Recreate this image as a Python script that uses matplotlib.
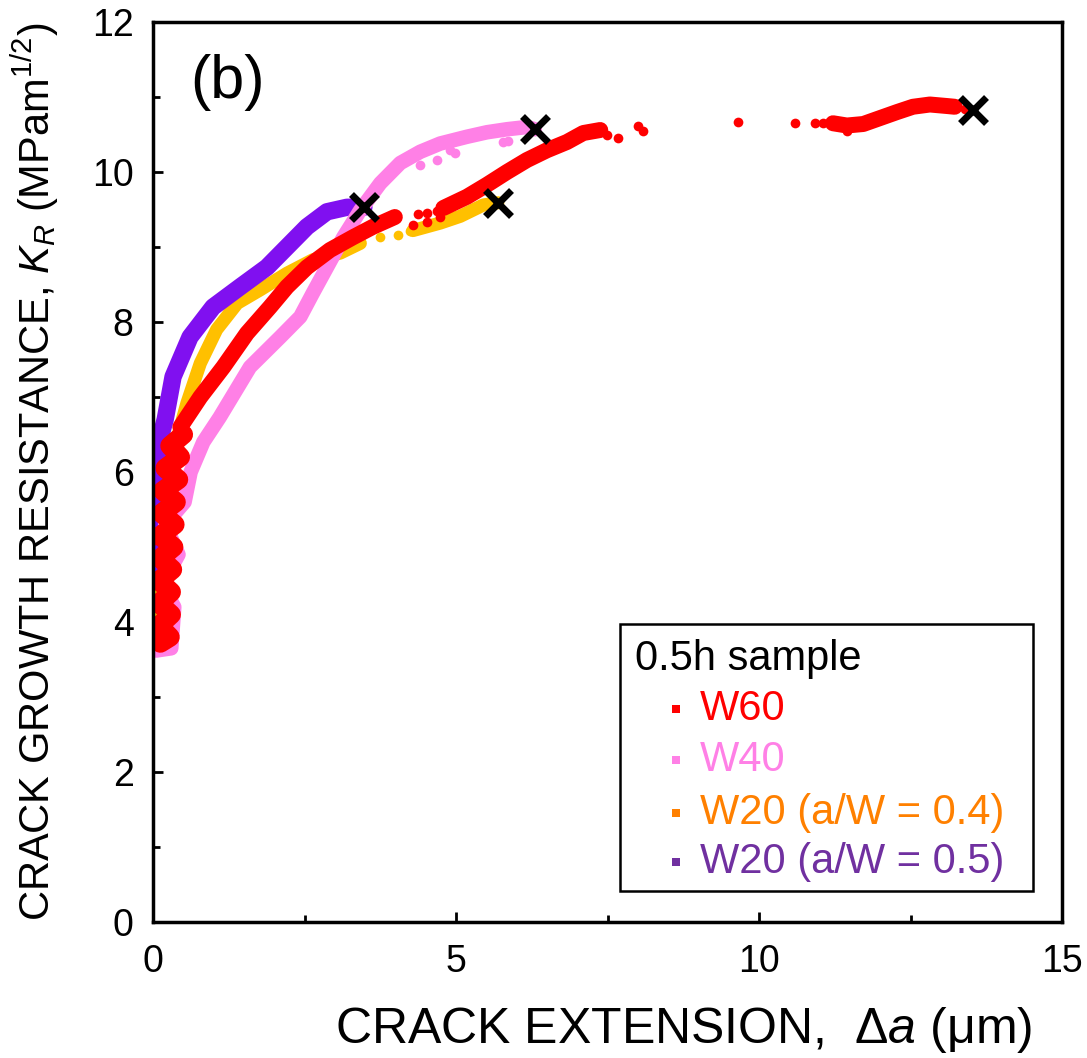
import numpy as np
import matplotlib
matplotlib.use("Agg")
import matplotlib.pyplot as plt
from matplotlib.patches import Rectangle

nan = np.nan

# ---- data (crack extension in um, K_R in MPa m^1/2) ----
# dense parts drawn as thick bands, NaN splits a series into separate bands
# W60: initial scatter cloud near the y axis
w60_col_x = [0.12, 0.28, 0.10, 0.30, 0.10, 0.30, 0.10, 0.32, 0.12, 0.34, 0.12, 0.36,
             0.14, 0.38, 0.16, 0.42, 0.20, 0.45, 0.28, 0.50]
w60_col_y = [3.72, 3.80, 3.95, 4.10, 4.25, 4.40, 4.55, 4.70, 4.85, 5.00, 5.15, 5.30,
             5.45, 5.60, 5.75, 5.90, 6.05, 6.20, 6.35, 6.50]
w60_x = [0.45, 0.78, 1.16, 1.55, 1.93, 2.21, 2.54, 2.92, 3.30, 3.63, 3.99,
         nan, 4.79, 5.18, 5.51, 5.84, 6.17, 6.50, 6.83, 7.10, 7.38,
         nan, 11.22, 11.45, 11.72, 12.00, 12.28, 12.54, 12.82, 13.10, 13.23]
w60_y = [6.60, 7.00, 7.40, 7.85, 8.20, 8.47, 8.73, 8.96, 9.13, 9.27, 9.40,
         nan, 9.52, 9.67, 9.83, 10.00, 10.16, 10.29, 10.40, 10.52, 10.56,
         nan, 10.65, 10.62, 10.64, 10.72, 10.80, 10.87, 10.90, 10.88, 10.87]
w60_dots_x = [4.29, 4.37, 4.52, 4.52, 4.69, 4.74, 7.49, 7.67, 8.00, 8.09, 9.65, 10.59,
              10.92, 11.06, 11.45, 13.40, 0.05, 0.03, 0.10, 0.04]
w60_dots_y = [9.29, 9.44, 9.33, 9.45, 9.48, 9.40, 10.49, 10.45, 10.61, 10.55, 10.67, 10.65,
              10.65, 10.66, 10.55, 10.84, 4.30, 5.10, 5.75, 3.85]

w40_x = [0.05, 0.30, 0.35, 0.15, 0.42, 0.20, 0.52, 0.62, 0.83, 1.10, 1.60, 2.10, 2.43,
         2.64, 2.87, 3.14, 3.42, 3.75, 4.08, 4.41, 4.74, 5.18, 5.51, 5.84, 6.17, 6.30]
w40_y = [3.62, 3.65, 4.20, 4.50, 4.90, 5.30, 5.60, 6.00, 6.40, 6.73, 7.40, 7.80, 8.07,
         8.39, 8.73, 9.13, 9.49, 9.85, 10.12, 10.27, 10.38, 10.47, 10.53, 10.57, 10.60, 10.57]
w40_dots_x = [4.41, 4.69, 4.90, 4.98, 5.78, 5.85]
w40_dots_y = [10.09, 10.16, 10.30, 10.25, 10.40, 10.42]

w20a_x = [0.05, 0.12, 0.25, 0.45, 0.56, 0.78, 1.05, 1.39, 1.77, 2.21, 2.64, 3.09, 3.42,
          nan, 4.29, 4.74, 5.07, 5.45, 5.69]
w20a_y = [4.10, 5.00, 6.00, 6.60, 6.92, 7.45, 7.90, 8.25, 8.43, 8.65, 8.83, 8.92, 9.05,
          nan, 9.22, 9.32, 9.41, 9.56, 9.59]
w20a_dots_x = [3.75, 4.04, 4.24]
w20a_dots_y = [9.13, 9.16, 9.22]

w20b_x = [0.05, 0.06, 0.07, 0.10, 0.20, 0.33, 0.61, 0.99, 1.44, 1.88, 2.21, 2.54,
          2.87, 3.20, 3.48]
w20b_y = [4.70, 5.20, 5.80, 6.40, 6.70, 7.27, 7.80, 8.20, 8.47, 8.73, 9.00, 9.27,
          9.47, 9.53, 9.53]

# fracture points (black crosses)
fail_x = [3.48, 5.69, 6.30, 13.53]
fail_y = [9.53, 9.59, 10.57, 10.83]

legend_labels = ["W60", "W40", "W20 (a/W = 0.4)", "W20 (a/W = 0.5)"]
legend_colors = ["#FF0000", "#FF80E6", "#FF8000", "#7030A0"]

c_w60 = "#FF0000"
c_w40 = "#FF80E6"
c_w20a = "#FFC000"
c_w20b = "#8010F0"

plt.rcParams["font.family"] = ["Liberation Sans", "DejaVu Sans"]
plt.rcParams["mathtext.fontset"] = "custom"
plt.rcParams["mathtext.rm"] = "Liberation Sans"
plt.rcParams["mathtext.it"] = "Liberation Sans:italic"

fig = plt.figure(figsize=(10.87, 10.58), dpi=100)
ax = fig.add_axes([0.1408, 0.1285, 0.8362, 0.8507])

band = dict(solid_capstyle="round", solid_joinstyle="round")
ax.plot(w20a_x, w20a_y, color=c_w20a, lw=9.5, **band)
ax.plot(w20a_dots_x, w20a_dots_y, "o", color=c_w20a, ms=7, mew=0)
ax.plot(w20b_x, w20b_y, color=c_w20b, lw=12.5, **band)
ax.plot(w40_x, w40_y, color=c_w40, lw=10.5, **band)
ax.plot(w40_dots_x, w40_dots_y, "o", color=c_w40, ms=7, mew=0)
ax.plot(w60_col_x, w60_col_y, color=c_w60, lw=14, **band)
ax.plot(w60_x, w60_y, color=c_w60, lw=11.5, **band)
ax.plot(w60_dots_x, w60_dots_y, "o", color=c_w60, ms=7, mew=0)
ax.plot(fail_x, fail_y, "x", color="black", ms=19, mew=5)

ax.set_xlim(0, 15)
ax.set_ylim(0, 12)
ax.set_xticks([0, 5, 10, 15])
ax.set_xticks([2.5, 7.5, 12.5], minor=True)
ax.set_yticks(range(0, 13, 2))
ax.set_yticks(range(1, 12, 2), minor=True)
ax.tick_params(which="both", direction="in", width=2, labelsize=27)
ax.tick_params(which="major", length=7)
ax.tick_params(which="minor", length=5)
ax.tick_params(axis="x", pad=16)
ax.tick_params(axis="y", pad=14)
for s in ax.spines.values():
    s.set_linewidth(2.5)

ax.set_xlabel(r"CRACK EXTENSION,  $\mathit{\Delta a}$ (μm)", fontsize=36)
ax.xaxis.set_label_coords(0.584, -0.092)
ax.set_ylabel(r"CRACK GROWTH RESISTANCE, $\mathit{K}_{\mathit{R}}$ (MPam$^{1/2}$)",
              fontsize=30, labelpad=22)

ax.text(0.041, 0.933, "(b)", transform=ax.transAxes, fontsize=44, va="center", ha="left")

# legend box drawn by hand to match the indented layout
ax.add_patch(Rectangle((0.514, 0.034), 0.454, 0.297, transform=ax.transAxes,
                       fill=False, edgecolor="black", lw=1.8, zorder=5))
ax.text(0.530, 0.292, "0.5h sample", transform=ax.transAxes, fontsize=30,
        va="center", ha="left", zorder=6)
rows_y = [0.2367, 0.180, 0.121, 0.0667]
for lab, col, yy in zip(legend_labels, legend_colors, rows_y):
    ax.plot([0.575], [yy], "s", color=col, ms=6, mew=0, transform=ax.transAxes,
            clip_on=False, zorder=6)
    ax.text(0.602, yy, lab, color=col, transform=ax.transAxes, fontsize=30,
            va="center", ha="left", zorder=6)

fig.savefig("out.png", dpi=100)
